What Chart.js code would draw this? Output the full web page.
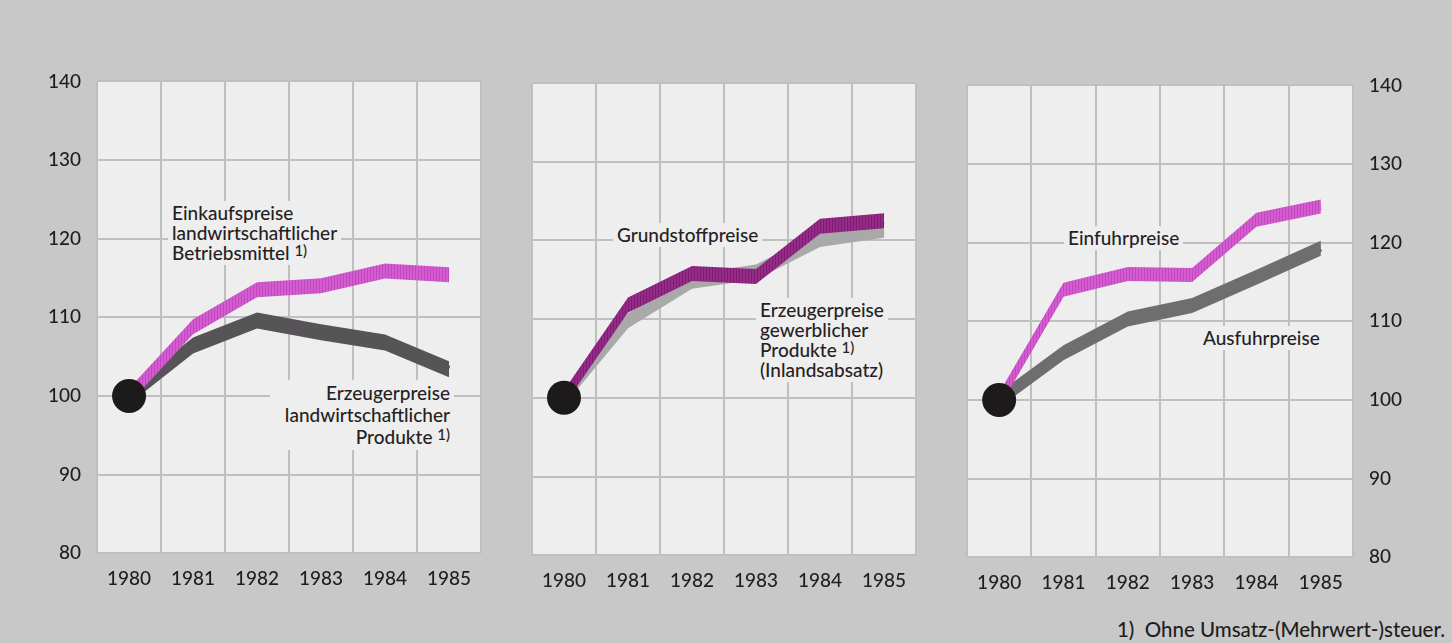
<!DOCTYPE html>
<html>
<head>
  <meta charset="UTF-8">
  <title>Preisindizes 1980–1985</title>
  <script src="https://cdn.jsdelivr.net/npm/chart.js"></script>
  <style>
    body { margin: 0; width: 1452px; height: 643px; background: #c8c8c8; position: relative; overflow: hidden; font-family: Lato, "Open Sans", sans-serif; }
    canvas { position: absolute; }
    .lbl { position: absolute; font-size: 19px; font-weight: 500; line-height: 20px; color: #261f24; background: #eeeeee; padding: 2px 4px; white-space: nowrap; }
    .lbl sup { font-size: 15px; vertical-align: 4px; line-height: 0; }
    .note { position: absolute; right: 7px; top: 617px; font-size: 20.5px; font-weight: 500; color: #1f1f1f; }
  </style>
</head>
<body>
  <canvas id="c1" width="460" height="540" style="left:30px;top:70px"></canvas>
  <canvas id="c2" width="420" height="540" style="left:520px;top:70px"></canvas>
  <canvas id="c3" width="450" height="540" style="left:960px;top:70px"></canvas>

  <div class="lbl" style="left:168px;top:201px">Einkaufspreise<br>landwirtschaftlicher<br>Betriebsmittel <sup>1)</sup></div>
  <div class="lbl" style="left:270px;top:380px;width:176px;text-align:right;line-height:22px">Erzeugerpreise<br>landwirtschaftlicher<br>Produkte <sup>1)</sup></div>
  <div class="lbl" style="left:613px;top:223px">Grundstoffpreise</div>
  <div class="lbl" style="left:756px;top:298px">Erzeugerpreise<br>gewerblicher<br>Produkte <sup>1)</sup><br>(Inlandsabsatz)</div>
  <div class="lbl" style="left:1064px;top:226px">Einfuhrpreise</div>
  <div class="lbl" style="left:1199px;top:326px">Ausfuhrpreise</div>
  <div class="note">1)&nbsp; Ohne Umsatz-(Mehrwert-)steuer.</div>

  <script>
    // 1980 = 100
    const years = ['1980', '1981', '1982', '1983', '1984', '1985'];
    const einkaufLandw = [100, 108.8, 113.5, 114.0, 115.9, 115.4];
    const erzeugerLandw = [100, 106.4, 109.6, 108.1, 106.8, 103.4];
    const grundstoff = [100, 111.8, 115.8, 115.4, 121.8, 122.5];
    const erzeugerGewerbl = [100, 109.8, 114.8, 116.0, 120.1, 121.3];
    const einfuhr = [100, 114.0, 116.0, 115.9, 122.9, 124.6];
    const ausfuhr = [100, 106.0, 110.3, 112.0, 115.6, 119.3];
    const yMin = 80, yMax = 140, yStep = 10;

    const font = { family: 'Lato', size: 19, weight: 500 };
    const gridColor = '#bfbfbf';

    // vertical hatch like the printed ribbons
    function hatch(a, b) {
      const c = document.createElement('canvas');
      c.width = 3; c.height = 1;
      const g = c.getContext('2d');
      g.fillStyle = a; g.fillRect(0, 0, 2, 1);
      g.fillStyle = b; g.fillRect(2, 0, 1, 1);
      return g.createPattern(c, 'repeat');
    }
    const pink = hatch('#d45cd0', '#c049bd');
    const purple = hatch('#952a87', '#7e1e72');

    // plot background
    const plotBg = {
      id: 'plotBg',
      beforeDraw(chart) {
        const a = chart.chartArea, ctx = chart.ctx;
        ctx.save();
        ctx.fillStyle = '#eeeeee';
        ctx.fillRect(a.left, a.top, a.right - a.left, a.bottom - a.top);
        ctx.restore();
      }
    };

    // thick band with vertical thickness, built on the points of the dataset
    const ribbon = {
      id: 'ribbon',
      beforeDatasetDraw(chart, args) {
        const ds = chart.data.datasets[args.index];
        const pts = args.meta.data;
        const h = ds.ribbon / 2;
        const ctx = chart.ctx;
        ctx.save();
        ctx.beginPath();
        pts.forEach((p, i) => i ? ctx.lineTo(p.x, p.y - h) : ctx.moveTo(p.x, p.y - h));
        for (let i = pts.length - 1; i >= 0; i--) ctx.lineTo(pts[i].x, pts[i].y + h);
        ctx.closePath();
        ctx.fillStyle = ds.borderColor;
        ctx.fill();
        ctx.restore();
      }
    };

    function series(data, color, thick, dot) {
      return {
        data: data,
        borderColor: color,
        borderWidth: 7,
        borderJoinStyle: 'miter',
        borderCapStyle: 'butt',
        ribbon: thick,
        tension: 0,
        pointRadius: ctx => (dot && ctx.dataIndex === 0) ? 17 : 0,
        pointBackgroundColor: '#1d1a1c',
        pointBorderWidth: 0
      };
    }

    function config(datasets, yPos) {
      return {
        type: 'line',
        data: { labels: years, datasets: datasets },
        plugins: [plotBg, ribbon],
        options: {
          responsive: false,
          maintainAspectRatio: false,
          animation: false,
          plugins: { legend: { display: false }, tooltip: { enabled: false } },
          scales: {
            x: {
              offset: true,
              grid: { offset: true, color: gridColor, lineWidth: 2, drawTicks: false },
              border: { display: false },
              ticks: { color: '#1e1e1e', font: font, padding: 14, maxRotation: 0 }
            },
            y: {
              position: yPos || 'left',
              min: yMin, max: yMax,
              grid: { color: gridColor, lineWidth: 2, drawTicks: false },
              border: { display: false },
              ticks: { display: !!yPos, stepSize: yStep, color: '#1e1e1e', font: font, padding: 16 }
            }
          }
        }
      };
    }

    // size the canvas so that the plot area lands on the wanted page rectangle
    function makeChart(id, datasets, yPos, box) {
      const canvas = document.getElementById(id);
      let chart;
      for (let k = 0; k < 4; k++) {
        chart = new Chart(canvas, config(datasets, yPos));
        const a = chart.chartArea;
        const padL = a.left, padT = a.top, padR = chart.width - a.right, padB = chart.height - a.bottom;
        const w = Math.round(box.right - box.left + padL + padR);
        const h = Math.round(box.bottom - box.top + padT + padB);
        if (k === 3) break;
        chart.destroy();
        canvas.width = w; canvas.height = h;
        canvas.style.width = w + 'px'; canvas.style.height = h + 'px';
        canvas.style.left = Math.round(box.left - padL) + 'px';
        canvas.style.top = Math.round(box.top - padT) + 'px';
      }
      return chart;
    }

    makeChart('c1', [
      series(einkaufLandw, pink, 15, true),
      series(erzeugerLandw, '#565456', 16, false)
    ], 'left', { left: 97, top: 81, right: 481, bottom: 553 });

    makeChart('c2', [
      series(grundstoff, purple, 15, true),
      series(erzeugerGewerbl, '#a9a9a9', 15, false)
    ], null, { left: 532, top: 83, right: 916, bottom: 555 });

    makeChart('c3', [
      series(einfuhr, pink, 14, true),
      series(ausfuhr, '#6f6d6f', 15, false)
    ], 'right', { left: 967, top: 85, right: 1353, bottom: 557 });
  </script>
</body>
</html>
